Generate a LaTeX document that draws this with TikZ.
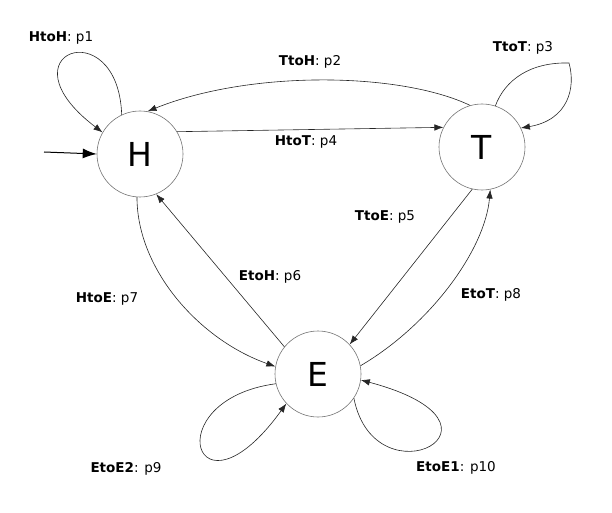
\documentclass[tikz,border=0pt]{standalone}
\usepackage{fontspec}
\setmainfont{DejaVu Sans}
\usetikzlibrary{arrows.meta}
\begin{document}
\begin{tikzpicture}[x=1pt,y=1pt,
  state/.style={circle,draw=black!55,line width=0.6pt,minimum size=86pt,inner sep=0pt,font=\fontsize{33}{36}\selectfont},
  lbl/.style={inner sep=0pt,font=\fontsize{13.5}{16}\selectfont},
  edge/.style={draw=black!85,line width=0.6pt,-{Latex[length=9pt,width=6.5pt]}}]
\useasboundingbox (0,0) rectangle (612,512);
\node[state] (H) at (140,358) {H};
\node[state] (T) at (482,365) {T};
\node[state] (E) at (318,138) {E};
\coordinate (init) at (44,360);
% initial arrow
\draw[line width=1pt,-{Latex[length=14pt,width=10pt]}] (init) -- (H.180);
% HtoH
\draw[edge] (H.115) .. controls (118,502) and (-2,459) .. (H.150);
% TtoH
\draw[edge] (T.106) .. controls (400,440) and (250,442) .. (H.80);
% HtoT
\draw[edge] (H.31) -- (T.153);
% TtoT
\draw[edge] (T.72) .. controls (505,432) and (530,450) .. (569,449) .. controls (576,424) and (568,392) .. (T.26);
% TtoE
\draw[edge] (T.257) -- (E.43);
% EtoT
\draw[edge] (E.11) .. controls (430,187) and (485,262) .. (T.281);
% HtoE
\draw[edge] (H.266) .. controls (137,242) and (200,172) .. (E.170);
% EtoH
\draw[edge] (E.141) -- (H.292);
% EtoE2
\draw[edge] (E.193) .. controls (155,112) and (195,-18) .. (E.223);
% EtoE1
\draw[edge] (E.326) .. controls (375,7) and (530,87) .. (E.352);
% labels
\node[lbl] (l1) at (61,474) {\textbf{HtoH}: p1};
\node[lbl] (l2) at (310,450) {\textbf{TtoH}: p2};
\node[lbl] (l3) at (523,464) {\textbf{TtoT}: p3};
\node[lbl] (l4) at (306,370) {\textbf{HtoT}: p4};
\node[lbl] (l5) at (385,295) {\textbf{TtoE}: p5};
\node[lbl] (l6) at (270,235) {\textbf{EtoH}: p6};
\node[lbl] (l7) at (107,213) {\textbf{HtoE}: p7};
\node[lbl] (l8) at (491,217) {\textbf{EtoT}: p8};
\node[lbl] (l9) at (126,43) {\textbf{EtoE2}: p9};
\node[lbl] (l10) at (456,44) {\textbf{EtoE1}: p10};
\end{tikzpicture}
\end{document}
